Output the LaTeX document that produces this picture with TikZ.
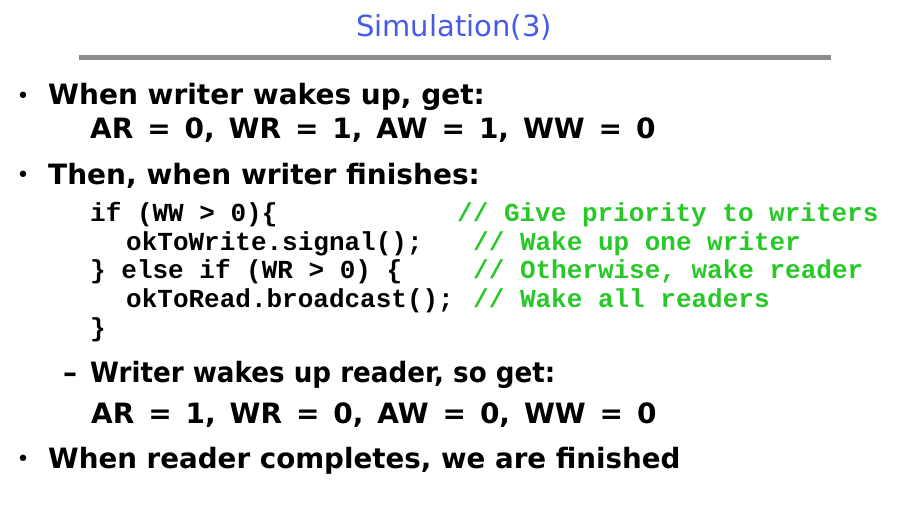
\documentclass[tikz,border=0pt]{standalone}
\usepackage{fontspec}
\setmainfont{DejaVu Sans}
\newfontfamily\codefont{Liberation Mono}
\newcommand\widespaces{\spaceskip=13.9pt plus 1pt\relax}
\definecolor{titleblue}{RGB}{70,92,232}
\definecolor{cmtgreen}{RGB}{40,200,40}
\definecolor{rulegray}{RGB}{140,140,140}
\tikzset{
  titletext/.style={anchor=base, inner sep=0pt, text=titleblue, font=\fontsize{29}{32}\selectfont},
  bodytext/.style={anchor=base west, inner sep=0pt, font=\bfseries\fontsize{28}{32}\selectfont},
  bulletmark/.style={anchor=center, inner sep=0pt, font=\fontsize{22}{24}\selectfont},
  dashmark/.style={anchor=base west, inner sep=0pt, font=\bfseries\fontsize{28}{32}\selectfont},
  codetext/.style={anchor=base west, inner sep=0pt, font=\codefont\bfseries\fontsize{26}{28}\selectfont},
  cmttext/.style={codetext, text=cmtgreen},
}
\begin{document}
\begin{tikzpicture}[x=1pt,y=-1pt]
\useasboundingbox (0,0) rectangle (916,505);
% title
\node[titletext] (title) at (454,37) {Simulation(3)};
\coordinate (rl) at (79,57.5);
\coordinate (rr) at (831,57.5);
\draw[rulegray, line width=4.5pt] (rl) -- (rr);
% bullet 1
\node[bulletmark] (b1) at (23,97.5) {•};
\node[bodytext] (l1) at (48,105) {When writer wakes up, get:};
\node[bodytext] (l2) at (90,139) {\widespaces AR = 0, WR = 1, AW = 1, WW = 0};
% bullet 2
\node[bulletmark] (b2) at (23,177) {•};
\node[bodytext] (l3) at (48,185) {Then, when writer finishes:};
% code
\node[codetext] (c1) at (90,222) {if (WW > 0)\{};
\node[cmttext] (m1) at (457,222) {// Give priority to writers};
\node[codetext] (c2) at (126,251) {okToWrite.signal();};
\node[cmttext] (m2) at (473,251) {// Wake up one writer};
\node[codetext] (c3) at (90,279) {\} else if (WR > 0) \{};
\node[cmttext] (m3) at (473,279) {// Otherwise, wake reader};
\node[codetext] (c4) at (126,308) {okToRead.broadcast();};
\node[cmttext] (m4) at (473,308) {// Wake all readers};
\node[codetext] (c5) at (90,336) {\}};
% sub bullet
\node[dashmark] (d1) at (63,382) {–};
\node[bodytext] (l4) at (90,382) {\scalebox{0.935}[1]{Writer wakes up reader, so get:}};
\node[bodytext] (l5) at (91,423) {\widespaces AR = 1, WR = 0, AW = 0, WW = 0};
% bullet 3
\node[bulletmark] (b3) at (23,460.5) {•};
\node[bodytext] (l6) at (48,468) {\scalebox{0.99}[1]{When reader completes, we are finished}};
\end{tikzpicture}
\end{document}
